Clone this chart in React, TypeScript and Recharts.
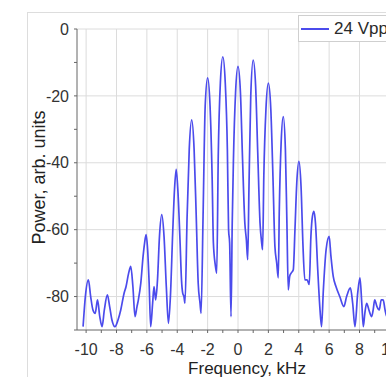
import React from 'react'
import {
  LineChart,
  Line,
  XAxis,
  YAxis,
  CartesianGrid,
  Legend,
  Label,
} from 'recharts'

// frequency (kHz) and power (arb. units, dB-like)
const FREQ = [
  -10.2, -10.05, -9.85, -9.7, -9.55, -9.4, -9.25, -9.1, -8.95, -8.8,
  -8.6, -8.45, -8.3, -8.1, -7.9, -7.72, -7.5, -7.37, -7.2, -7.06,
  -6.92, -6.78, -6.65, -6.56, -6.4, -6.25, -6.15, -6.05, -5.95, -5.85,
  -5.75, -5.62, -5.53, -5.42, -5.3, -5.17, -5.02, -4.87, -4.72, -4.58,
  -4.45, -4.3, -4.18, -4.07, -3.95, -3.82, -3.72, -3.64, -3.56, -3.49,
  -3.35, -3.21, -3.05, -2.89, -2.75, -2.62, -2.5, -2.43, -2.3, -2.16,
  -2.0, -1.84, -1.7, -1.62, -1.5, -1.4, -1.3, -1.16, -1.0, -0.84,
  -0.7, -0.62, -0.55, -0.46, -0.38, -0.3, -0.16, 0, 0.16, 0.3,
  0.45, 0.55, 0.64, 0.72, 0.84, 1.0, 1.16, 1.3, 1.45, 1.56,
  1.62, 1.7, 1.84, 2.0, 2.16, 2.3, 2.43, 2.55, 2.65, 2.72,
  2.84, 2.98, 3.12, 3.22, 3.31, 3.4, 3.5, 3.64, 3.75, 3.87,
  4.01, 4.15, 4.28, 4.4, 4.55, 4.69, 4.8, 4.9, 5.0, 5.1,
  5.25, 5.4, 5.5, 5.62, 5.8, 6.0, 6.12, 6.27, 6.45, 6.7,
  6.97, 7.15, 7.4, 7.55, 7.7, 7.88, 8.03, 8.15, 8.25, 8.35,
  8.47, 8.62, 8.8, 8.9, 9.0, 9.15, 9.3, 9.43, 9.56, 9.68,
  9.8, 9.95, 10.1, 10.25, 10.4, 10.55,
]

const POWER = [
  -89, -80, -75, -80, -84, -85, -81, -86, -89, -84,
  -79.5, -83, -87, -89, -87, -84, -79, -77, -73, -71,
  -77, -86, -83, -81, -76, -68, -64, -61.5, -66, -76,
  -89, -82, -77, -81, -75, -62, -55.5, -62, -77, -88,
  -80, -61, -48, -42, -49, -63, -75, -79, -80, -82,
  -56, -36, -27.2, -36, -56, -76, -82, -85, -56, -23,
  -14.6, -23, -45, -64, -70.4, -73, -38, -16, -8.3, -16,
  -36, -60, -64, -86, -58, -39, -19, -11.2, -19, -39,
  -58, -63, -69, -48, -20, -9.3, -17, -37, -58, -64,
  -66, -44, -24, -16.2, -24, -44, -65, -70, -74.4, -54,
  -34, -26.2, -36, -58, -78, -74, -73, -72, -60, -46,
  -39.6, -47, -65, -75, -75, -76.4, -62, -56, -54.5, -58,
  -72, -84, -89, -78, -66, -62, -68, -74, -77, -80,
  -83, -80, -77.4, -82, -89, -79, -74.4, -82, -89, -85,
  -82, -84, -86, -84, -81, -83, -84, -81, -81, -84,
  -86, -82, -85, -81, -86, -83,
]

const X_TICKS = [-10, -9, -8, -7, -6, -5, -4, -3, -2, -1, 0, 1, 2, 3, 4, 5, 6, 7, 8, 9, 10]
const X_GRID = [-10, -8, -6, -4, -2, 0, 2, 4, 6, 8, 10]
const Y_TICKS = [0, -10, -20, -30, -40, -50, -60, -70, -80, -90]
const Y_GRID = [0, -20, -40, -60, -80]

const SERIES_NAME = '24 Vpp'
const LINE_COLOR = '#4b4bec'
const FONT = '"Liberation Sans", Arial, sans-serif'

const data = FREQ.map((f, i) => ({ f, p: POWER[i] }))

function LegendBox() {
  return (
    <div
      style={{
        display: 'flex',
        alignItems: 'center',
        height: 25,
        width: 120,
        border: '1px solid #cfcfcf',
        background: '#fff',
        fontFamily: FONT,
        fontSize: 17,
        color: '#2a2a2a',
      }}
    >
      <svg width={30} height={10} style={{ marginLeft: 1 }}>
        <line x1={1} y1={5} x2={29} y2={5} stroke={LINE_COLOR} strokeWidth={2} />
      </svg>
      <span style={{ marginLeft: 4 }}>{SERIES_NAME}</span>
    </div>
  )
}

export default function App() {
  const tickStyle = { fill: '#333', fontSize: 16, fontFamily: FONT }
  return (
    <div
      style={{
        position: 'absolute',
        left: 0,
        top: 0,
        width: 386,
        height: 377,
        overflow: 'hidden',
        background: '#fff',
        fontFamily: FONT,
      }}
    >
      {/* outer frame of the original figure */}
      <div
        style={{
          position: 'absolute',
          left: 27,
          top: 12,
          width: 420,
          height: 420,
          border: '1px solid #dddddd',
        }}
      />
      <div style={{ position: 'absolute', left: 0, top: 0 }}>
        <LineChart
          width={420}
          height={377}
          data={data}
          margin={{ top: 29, right: 21, left: 0, bottom: 0 }}
        >
          <CartesianGrid
            stroke="#dcdcdc"
            horizontalValues={Y_GRID}
            verticalValues={X_GRID}
          />
          <XAxis
            dataKey="f"
            type="number"
            domain={[-10.6, 10.6]}
            ticks={X_TICKS}
            interval={0}
            allowDataOverflow
            height={47}
            tickSize={3}
            tickMargin={11}
            tickFormatter={(v: number) => (v % 2 === 0 ? String(v) : '')}
            stroke="#666"
            tick={tickStyle}
          >
            <Label
              value="Frequency, kHz"
              position="insideBottom"
              offset={3}
              dx={9}
              style={{ fill: '#222', fontSize: 17, fontFamily: FONT }}
            />
          </XAxis>
          <YAxis
            type="number"
            domain={[-90, 0]}
            ticks={Y_TICKS}
            interval={0}
            allowDataOverflow
            width={77}
            tickSize={3}
            tickMargin={5}
            tickFormatter={(v: number) => (v % 20 === 0 ? String(v) : '')}
            stroke="#666"
            tick={tickStyle}
          >
            <Label
              value="Power, arb. units"
              angle={-90}
              position="center"
              dy={-2}
              style={{ fill: '#222', fontSize: 18, fontFamily: FONT, textAnchor: 'middle' }}
            />
          </YAxis>
          <Legend
            layout="horizontal"
            verticalAlign="middle"
            align="center"
            wrapperStyle={{ left: 298, top: 15, width: 'auto' }}
            content={() => <LegendBox />}
          />
          <Line
            type="monotone"
            dataKey="p"
            name={SERIES_NAME}
            stroke={LINE_COLOR}
            strokeWidth={1.7}
            dot={false}
            isAnimationActive={false}
          />
        </LineChart>
      </div>
    </div>
  )
}
